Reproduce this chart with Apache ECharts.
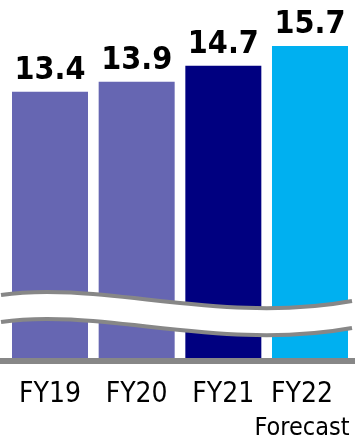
<!DOCTYPE html>
<html>
<head>
<meta charset="utf-8">
<style>
  html, body { margin: 0; padding: 0; background: #fff; }
  #chart { width: 355px; height: 438px; }
</style>
<script src="https://cdn.jsdelivr.net/npm/echarts@6/dist/echarts.min.js"></script>
</head>
<body>
<div id="chart"></div>
<script>
// Fiscal years and their totals
const categories = ['FY19', 'FY20', 'FY21', 'FY22'];
const values = [13.4, 13.9, 14.7, 15.7];
const notes = ['', '', '', 'Forecast'];

// Bar palette: actuals, latest actual, forecast
const palette = ['#6666b2', '#6666b2', '#000080', '#00b0f0'];
const FONT = "'DejaVu Sans Condensed', 'DejaVu Sans', sans-serif";
const GRAY = '#878787';

const chart = echarts.init(document.getElementById('chart'), null, { renderer: 'canvas' });

chart.setOption({
  animation: false,
  grid: { left: 6.67, right: 1.67, top: 40, bottom: 80, containLabel: false, outerBoundsMode: 'none' },
  xAxis: {
    type: 'category',
    data: categories,
    axisLine: { show: false },
    axisTick: { show: false },
    axisLabel: {
      margin: 22,
      interval: 0,
      hideOverlap: false,
      formatter: (v, i) => notes[i]
        ? `{cs|${v}}\n{ns|${notes[i]}}`
        : `{c|${v}}`,
      rich: {
        c: { fontFamily: FONT, fontSize: 28, lineHeight: 30, color: '#000' },
        cs: { fontFamily: FONT, fontSize: 28, lineHeight: 30, color: '#000', padding: [0, 16, 0, 0] },
        ns: { fontFamily: FONT, fontSize: 25, lineHeight: 36, color: '#000', padding: [0, 16, 0, 0] }
      }
    }
  },
  yAxis: {
    type: 'value',
    min: 0,
    max: 16,
    show: false,
    splitLine: { show: false }
  },
  series: [{
    type: 'bar',
    barWidth: 76,
    data: values.map((v, i) => ({ value: v, itemStyle: { color: palette[i] } })),
    label: {
      show: true,
      position: 'top',
      distance: 5,
      fontFamily: FONT,
      fontWeight: 'bold',
      fontSize: 32,
      color: '#000'
    }
  }]
});

// Baseline and the wavy axis-break band drawn across the bars
const W = chart.getWidth();
const baseY = chart.convertToPixel({ yAxisIndex: 0 }, 0);

const upper = { x1: 1, y1: 295, cpx1: 100, cpy1: 280, cpx2: 220, cpy2: 325, x2: 352, y2: 301 };
const gap = 27;
const lower = {
  x1: upper.x1, y1: upper.y1 + gap, cpx1: upper.cpx1, cpy1: upper.cpy1 + gap,
  cpx2: upper.cpx2, cpy2: upper.cpy2 + gap, x2: upper.x2, y2: upper.y2 + gap
};

function bez(s, t) {
  const u = 1 - t;
  return [
    u * u * u * s.x1 + 3 * u * u * t * s.cpx1 + 3 * u * t * t * s.cpx2 + t * t * t * s.x2,
    u * u * u * s.y1 + 3 * u * u * t * s.cpy1 + 3 * u * t * t * s.cpy2 + t * t * t * s.y2
  ];
}
const band = [];
for (let k = 0; k <= 60; k++) band.push(bez(upper, k / 60));
for (let k = 60; k >= 0; k--) band.push(bez(lower, k / 60));

chart.setOption({
  graphic: [
    { type: 'rect', z: 100, shape: { x: 0, y: baseY, width: W, height: 6 }, style: { fill: GRAY } },
    { type: 'polygon', z: 100, shape: { points: band }, style: { fill: '#fff' } },
    { type: 'bezierCurve', z: 101, shape: upper, style: { stroke: GRAY, lineWidth: 4, fill: null } },
    { type: 'bezierCurve', z: 101, shape: lower, style: { stroke: GRAY, lineWidth: 4, fill: null } }
  ]
});
</script>
</body>
</html>
